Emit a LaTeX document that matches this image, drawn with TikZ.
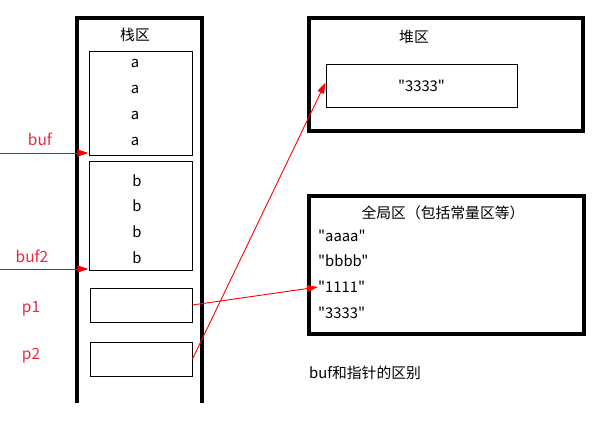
\documentclass[tikz,border=0pt]{standalone}
\usepackage{fontspec}
\setmainfont{Noto Sans CJK SC}[Ligatures=TeXOff]
\usetikzlibrary{arrows.meta}
\definecolor{labelred}{RGB}{236,40,60}

\begin{document}
\begin{tikzpicture}[x=1pt,y=-1pt,
  font=\fontsize{14.8}{17}\selectfont,
  bigbox/.style={draw,line width=3.2pt},
  cellbox/.style={draw,line width=1pt,inner sep=0pt},
  ptrlabel/.style={text=labelred,font=\fontsize{15.5}{17}\selectfont},
  ptrline/.style={red,line width=0.9pt,-{Triangle[length=11pt,width=7pt]}}]
\useasboundingbox (0,0) rectangle (599,420);

% Stack area
\draw[line width=3.2pt] (77,403) -- (77,18) -- (202,18) -- (202,403);
\node (stacktitle) at (135,35) {栈区};
\node[cellbox,minimum width=103pt,minimum height=103pt] (bufa) at (140.5,103.5) {};
\node[cellbox,minimum width=103pt,minimum height=109pt] (bufb) at (140.5,215.5) {};
\foreach \y [count=\i] in {63,89,115,141}
  \node (a\i) at (135,\y) {a};
\foreach \y [count=\i] in {181,206,232,258}
  \node (b\i) at (137,\y) {b};
\node[cellbox,minimum width=102pt,minimum height=34pt] (p1box) at (141,305) {};
\node[cellbox,minimum width=102pt,minimum height=34pt] (p2box) at (141,359) {};

% Labels on the left
\node[ptrlabel] (buf) at (40,139) {buf};
\node[ptrlabel] (buf2) at (32,256) {buf2};
\node[ptrlabel] (p1) at (31,309) {p1};
\node[ptrlabel] (p2) at (31,356) {p2};
\coordinate (bufin) at (0,153);
\coordinate (buf2in) at (0,269);

% Heap area
\node[bigbox,minimum width=274pt,minimum height=113pt] (heap) at (446,74.5) {};
\node (heaptitle) at (414,37) {堆区};
\node[cellbox,minimum width=191pt,minimum height=43pt] (heapstr) at (421.5,85.5) {"3333"};

% Global area
\node[bigbox,minimum width=275pt,minimum height=138pt] (global) at (446.5,265) {};
\node (globaltitle) at (443,213) {全局区（包括常量区等）};
\node[anchor=west,inner sep=0pt] (ga) at (318,236) {"aaaa"};
\node[anchor=west,inner sep=0pt] (gb) at (318,261) {"bbbb"};
\node[anchor=west,inner sep=0pt] (g1) at (318,287) {"1111"};
\node[anchor=west,inner sep=0pt] (g3) at (318,313) {"3333"};

% Caption
\node[anchor=west,inner sep=0pt] (caption) at (309,373) {buf和指针的区别};

% Pointers
\draw[ptrline] (bufin) -- (bufin -| bufa.west);
\draw[ptrline] (buf2in) -- (buf2in -| bufb.west);
\draw[ptrline] (p1box.east) -- (g1.west);
\draw[ptrline] (p2box.east) -- ([yshift=3pt]heapstr.west);
\end{tikzpicture}
\end{document}
